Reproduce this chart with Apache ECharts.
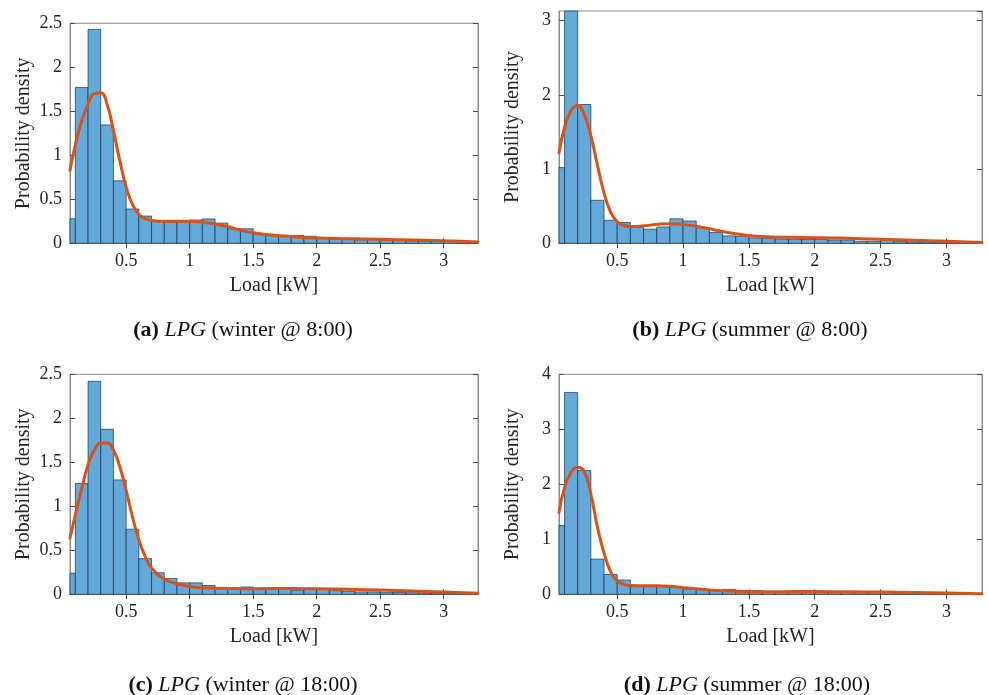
<!DOCTYPE html>
<html>
<head>
<meta charset="utf-8">
<script src="https://cdn.jsdelivr.net/npm/echarts@6/dist/echarts.min.js"></script>
<style>
  html, body { margin: 0; padding: 0; background: #fff; }
  #chart { width: 988px; height: 695px; }
</style>
</head>
<body>
<div id="chart"></div>
<script>
// Histogram bins (left edges, kW) shared by all four panels
const binLeft = [0, 0.1, 0.2, 0.3, 0.4, 0.5, 0.6, 0.7, 0.8, 0.9, 1.0, 1.1, 1.2, 1.3, 1.4, 1.5, 1.6,
                 1.7, 1.8, 1.9, 2.0, 2.1, 2.2, 2.3, 2.4, 2.5, 2.6, 2.7, 2.8, 2.9, 3.0, 3.1, 3.2];
const binWidth = 0.1;

// Empirical densities per bin
const winter800 = [0.28, 1.77, 2.43, 1.345, 0.71, 0.39, 0.31, 0.25, 0.24, 0.25, 0.265, 0.277, 0.23, 0.165, 0.165,
                   0.106, 0.10, 0.09, 0.09, 0.08, 0.06, 0.05, 0.045, 0.04, 0.04, 0.038, 0.038, 0.03, 0.027, 0.027,
                   0.023, 0.015, 0.015];
const summer800 = [1.02, 3.3, 1.87, 0.58, 0.31, 0.28, 0.215, 0.19, 0.22, 0.33, 0.30, 0.21, 0.145, 0.10, 0.094,
                   0.072, 0.063, 0.058, 0.054, 0.054, 0.054, 0.045, 0.045, 0.027, 0.027, 0.04, 0.027, 0.018, 0.018,
                   0.013, 0.013, 0.01, 0.005];
const winter1800 = [0.24, 1.26, 2.42, 1.875, 1.30, 0.74, 0.405, 0.245, 0.18, 0.13, 0.13, 0.10, 0.076, 0.068, 0.083,
                    0.064, 0.064, 0.06, 0.042, 0.064, 0.06, 0.042, 0.034, 0.027, 0.027, 0.023, 0.02, 0.018, 0.015,
                    0.013, 0.012, 0.01, 0.008];
const summer1800 = [1.25, 3.67, 2.25, 0.64, 0.36, 0.26, 0.16, 0.16, 0.16, 0.13, 0.10, 0.085, 0.07, 0.09, 0.067,
                    0.067, 0.05, 0.05, 0.042, 0.042, 0.045, 0.042, 0.042, 0.036, 0.042, 0.036, 0.03, 0.03, 0.024,
                    0.024, 0.018, 0.018, 0.012];

// Fitted density curves [load, density]
const fitWinter800 = [[0.058, 0.83], [0.1, 1.12], [0.15, 1.39], [0.2, 1.58], [0.25, 1.70], [0.3, 1.71],
  [0.35, 1.58], [0.4, 1.28], [0.45, 0.94], [0.5, 0.64], [0.55, 0.44], [0.6, 0.33], [0.65, 0.28], [0.7, 0.26],
  [0.8, 0.25], [0.9, 0.25], [1.0, 0.25], [1.1, 0.24], [1.2, 0.22], [1.3, 0.19], [1.4, 0.15], [1.5, 0.12],
  [1.6, 0.10], [1.8, 0.076], [2.0, 0.06], [2.25, 0.052], [2.5, 0.045], [2.75, 0.037], [3.0, 0.03], [3.27, 0.015]];
const fitSummer800 = [[0.058, 1.22], [0.1, 1.56], [0.15, 1.79], [0.2, 1.86], [0.25, 1.73], [0.3, 1.45],
  [0.35, 1.05], [0.4, 0.68], [0.45, 0.42], [0.5, 0.29], [0.55, 0.24], [0.6, 0.225], [0.7, 0.235], [0.8, 0.255],
  [0.9, 0.265], [1.0, 0.255], [1.1, 0.23], [1.2, 0.195], [1.3, 0.16], [1.4, 0.13], [1.5, 0.105], [1.6, 0.09],
  [1.8, 0.08], [2.0, 0.076], [2.2, 0.07], [2.5, 0.054], [2.75, 0.04], [3.0, 0.027], [3.27, 0.012]];
const fitWinter1800 = [[0.058, 0.64], [0.1, 0.9], [0.15, 1.2], [0.2, 1.47], [0.25, 1.64], [0.3, 1.72], [0.35, 1.72],
  [0.4, 1.64], [0.45, 1.45], [0.5, 1.18], [0.55, 0.88], [0.6, 0.62], [0.65, 0.43], [0.7, 0.3], [0.8, 0.175],
  [0.9, 0.12], [1.0, 0.09], [1.1, 0.075], [1.2, 0.068], [1.5, 0.064], [1.8, 0.066], [2.0, 0.064], [2.25, 0.057],
  [2.5, 0.048], [2.75, 0.037], [3.0, 0.027], [3.27, 0.012]];
const fitSummer1800 = [[0.058, 1.49], [0.1, 1.94], [0.15, 2.22], [0.2, 2.31], [0.25, 2.23], [0.3, 1.82],
  [0.35, 1.22], [0.4, 0.75], [0.45, 0.41], [0.5, 0.24], [0.55, 0.18], [0.6, 0.16], [0.7, 0.155], [0.8, 0.155],
  [0.9, 0.145], [1.0, 0.12], [1.1, 0.1], [1.2, 0.08], [1.3, 0.065], [1.4, 0.055], [1.5, 0.05], [1.75, 0.048],
  [2.0, 0.05], [2.25, 0.045], [2.5, 0.04], [2.75, 0.033], [3.0, 0.025], [3.27, 0.01]];

// Axis ticks
const xTicks = [0.5, 1, 1.5, 2, 2.5, 3];
const xRange = [0.058, 3.27];

// Panel captions
const captionTags = ['(a)', '(b)', '(c)', '(d)'];
const captionTexts = ['(winter @ 8:00)', '(summer @ 8:00)', '(winter @ 18:00)', '(summer @ 18:00)'];
const captionName = 'LPG';

const xName = 'Load [kW]';
const yName = 'Probability density';

// Layout for each panel
const panels = [
  { hist: winter800,  fit: fitWinter800,  yMax: 2.5,  yStep: 0.5, grid: { left: 70,  top: 23.3, width: 408, height: 220 }, cap: [243, 330] },
  { hist: summer800,  fit: fitSummer800,  yMax: 3.13, yStep: 1,   grid: { left: 559, top: 11,   width: 423, height: 232.3 }, cap: [750, 330] },
  { hist: winter1800, fit: fitWinter1800, yMax: 2.5,  yStep: 0.5, grid: { left: 70,  top: 374.3, width: 408, height: 220 }, cap: [243, 685] },
  { hist: summer1800, fit: fitSummer1800, yMax: 4,    yStep: 1,   grid: { left: 559, top: 374.3, width: 423, height: 220 }, cap: [747, 685] }
];

const SERIF = '"Liberation Serif", "DejaVu Serif", serif';
const FRAME = '#8a8a8a';
const TICK = '#4a4a4a';
const TXT = '#262626';
const CAP_SIZE = 22;

function renderBin(params, api) {
  const x0 = api.value(0), x1 = api.value(1), h = api.value(2);
  const pTop = api.coord([x0, h]);
  const pBot = api.coord([x1, 0]);
  const cs = params.coordSys;
  const shape = echarts.graphic.clipRectByRect(
    { x: pTop[0], y: pTop[1], width: pBot[0] - pTop[0], height: pBot[1] - pTop[1] },
    { x: cs.x, y: cs.y, width: cs.width, height: cs.height }
  );
  if (!shape) return;
  return {
    type: 'rect',
    shape: shape,
    style: { fill: '#63a9d9', stroke: 'rgba(25,45,70,0.85)', lineWidth: 0.8 }
  };
}

const grids = [], xAxes = [], yAxes = [], series = [], graphics = [];

panels.forEach((p, i) => {
  grids.push(Object.assign({ show: true, borderColor: FRAME, borderWidth: 1, backgroundColor: '#fff' }, p.grid));

  const xBase = {
    type: 'value', gridIndex: i, min: xRange[0], max: xRange[1],
    axisLine: { show: true, lineStyle: { color: FRAME, width: 1 } },
    splitLine: { show: false },
    axisTick: { show: true, inside: true, length: 5, customValues: xTicks, lineStyle: { color: TICK } }
  };
  xAxes.push(Object.assign({}, xBase, {
    position: 'bottom',
    name: xName, nameLocation: 'middle', nameGap: 32,
    nameTextStyle: { fontFamily: SERIF, fontSize: 20, color: TXT },
    axisLabel: { customValues: xTicks, fontFamily: SERIF, fontSize: 18, color: TXT, margin: 9 }
  }));
  xAxes.push(Object.assign({}, xBase, { position: 'top', axisLabel: { show: false } }));

  const yBase = {
    type: 'value', gridIndex: i, min: 0, max: p.yMax, interval: p.yStep,
    axisLine: { show: true, lineStyle: { color: FRAME, width: 1 } },
    splitLine: { show: false },
    axisTick: { show: true, inside: true, length: 5, lineStyle: { color: TICK } }
  };
  yAxes.push(Object.assign({}, yBase, {
    position: 'left',
    name: yName, nameLocation: 'middle', nameGap: 36, nameRotate: 90,
    nameTextStyle: { fontFamily: SERIF, fontSize: 20, color: TXT },
    axisLabel: { fontFamily: SERIF, fontSize: 18, color: TXT, margin: 8,
                 showMaxLabel: p.yMax % p.yStep === 0 }
  }));
  yAxes.push(Object.assign({}, yBase, { position: 'right', axisLabel: { show: false } }));

  series.push({
    type: 'custom',
    xAxisIndex: 2 * i, yAxisIndex: 2 * i,
    renderItem: renderBin,
    encode: { x: [0, 1], y: 2 },
    data: binLeft.map((b, k) => [b, b + binWidth, p.hist[k]]),
    z: 2
  });
  series.push({
    type: 'line',
    xAxisIndex: 2 * i, yAxisIndex: 2 * i,
    data: p.fit,
    smooth: 0.5,
    showSymbol: false,
    clip: true,
    lineStyle: { color: '#d95319', width: 3, cap: 'round', join: 'round' },
    z: 3
  });

  graphics.push({
    type: 'text',
    x: p.cap[0], y: p.cap[1],
    style: {
      text: '{b|' + captionTags[i] + '} {i|' + captionName + '} {r|' + captionTexts[i] + '}',
      align: 'center', verticalAlign: 'middle',
      fontFamily: SERIF, fontSize: CAP_SIZE, fill: '#111',
      rich: {
        b: { fontFamily: SERIF, fontSize: CAP_SIZE, fontWeight: 'bold', fill: '#111' },
        i: { fontFamily: SERIF, fontSize: CAP_SIZE, fontStyle: 'italic', fill: '#111' },
        r: { fontFamily: SERIF, fontSize: CAP_SIZE, fill: '#111' }
      }
    }
  });
});

const chart = echarts.init(document.getElementById('chart'), null, { renderer: 'canvas' });
chart.setOption({
  animation: false,
  backgroundColor: '#fff',
  grid: grids,
  xAxis: xAxes,
  yAxis: yAxes,
  series: series,
  graphic: graphics
});
</script>
</body>
</html>
